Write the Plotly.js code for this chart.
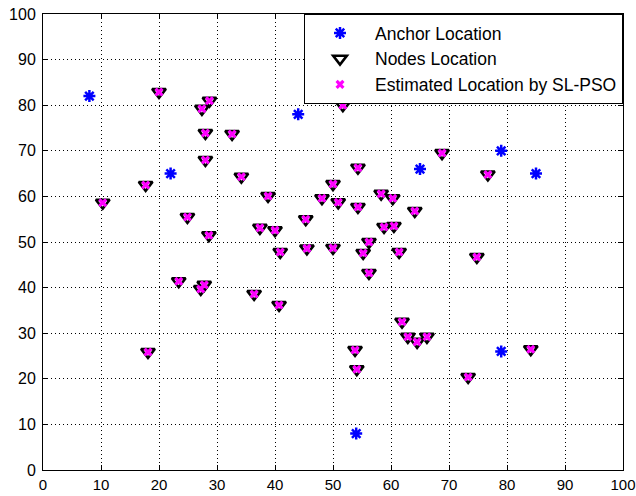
<!DOCTYPE html>
<html>
<head>
<meta charset="utf-8">
<script src="https://cdn.plot.ly/plotly-3.0.1.min.js"></script>
<style>html,body{margin:0;padding:0;background:#fff;}#chart{width:636px;height:496px;}</style>
</head>
<body>
<div id="chart"></div>
<script>
// Anchor locations (blue stars)
const anchorX = [8, 22, 44, 65, 79, 85, 79, 54];
const anchorY = [82, 65, 78, 66, 70, 65, 26, 8];

// Node locations (black down-triangles)
const nodeX = [10.3, 17.7, 20.0, 27.4, 28.7, 28.0, 32.6, 28.0, 34.2, 24.9,
               28.6, 38.8, 37.4, 40.0, 45.3, 40.9, 45.5, 23.4, 27.2, 27.8,
               36.4, 40.7, 18.1, 51.7, 68.8, 54.3, 76.7, 50.0, 48.1, 50.9,
               54.3, 58.3, 60.3, 64.1, 58.8, 60.5, 50.0, 56.2, 55.2, 61.4,
               56.2, 74.8, 61.9, 62.9, 64.5, 66.2, 53.8, 54.1, 73.3, 84.1];
const nodeY = [58.6, 62.5, 82.9, 79.2, 81.0, 73.9, 73.7, 68.0, 64.3, 55.5,
               51.5, 60.1, 53.1, 52.6, 55.0, 47.8, 48.6, 41.4, 39.7, 40.6,
               38.6, 36.2, 25.9, 80.0, 69.5, 66.3, 64.8, 62.7, 59.6, 58.7,
               57.7, 60.6, 59.6, 56.8, 53.3, 53.5, 48.7, 50.0, 47.6, 47.8,
               43.2, 46.7, 32.5, 29.2, 28.1, 29.2, 26.3, 22.1, 20.4, 26.5];

// Estimated locations by SL-PSO (magenta crosses)
const estX = [10.3, 17.7, 20.0, 27.4, 28.7, 28.0, 32.6, 28.0, 34.2, 24.9,
              28.6, 38.8, 37.4, 40.0, 45.3, 40.9, 45.5, 23.4, 27.2, 27.8,
              36.4, 40.7, 18.1, 51.7, 68.8, 54.3, 76.7, 50.0, 48.1, 50.9,
              54.3, 58.3, 60.3, 64.1, 58.8, 60.5, 50.0, 56.2, 55.2, 61.4,
              56.2, 74.8, 61.9, 62.9, 64.5, 66.2, 53.8, 54.1, 73.3, 84.1];
const estY = [58.6, 62.5, 82.9, 79.2, 81.0, 73.9, 73.7, 68.0, 64.3, 55.5,
              51.5, 60.1, 53.1, 52.6, 55.0, 47.8, 48.6, 41.4, 39.7, 40.6,
              38.6, 36.2, 25.9, 80.0, 69.5, 66.3, 64.8, 62.7, 59.6, 58.7,
              57.7, 60.6, 59.6, 56.8, 53.3, 53.5, 48.7, 50.0, 47.6, 47.8,
              43.2, 46.7, 32.5, 29.2, 28.1, 29.2, 26.3, 22.1, 20.4, 26.5];

const tickVals = [0, 10, 20, 30, 40, 50, 60, 70, 80, 90, 100];
const seriesNames = ['Anchor Location', 'Nodes Location', 'Estimated Location by SL-PSO'];

const traces = [
  {x: anchorX, y: anchorY, mode: 'markers', type: 'scatter', name: seriesNames[0],
   marker: {symbol: 'asterisk-open', size: 10, color: '#0000ff', line: {color: '#0000ff', width: 2.5}}},
  {x: nodeX, y: nodeY, mode: 'markers', type: 'scatter', name: seriesNames[1],
   marker: {symbol: 'triangle-down-open', size: 12, color: '#000000', line: {color: '#000000', width: 2.5}}},
  {x: estX, y: estY, mode: 'markers', type: 'scatter', name: seriesNames[2],
   marker: {symbol: 'x', size: 8, color: '#ff00ff', line: {width: 0}}}
];

const axisCommon = {
  range: [0, 100], tickvals: tickVals, ticktext: tickVals.map(String),
  showgrid: true, gridcolor: '#000000', gridwidth: 1, griddash: '1px,3px',
  zeroline: false, showline: true, linecolor: '#000000', linewidth: 1,
  mirror: 'ticks', ticks: 'inside', ticklen: 5, tickcolor: '#000000',
  fixedrange: true
};

const layout = {
  width: 636, height: 496,
  margin: {l: 43, r: 13, t: 14, b: 26, pad: 0},
  paper_bgcolor: '#ffffff', plot_bgcolor: '#ffffff',
  showlegend: true,
  xaxis: Object.assign({}, axisCommon, {ticklabelstandoff: 1,
    tickfont: {family: 'Liberation Sans, Arial, sans-serif', size: 15, color: '#000000'}}),
  yaxis: Object.assign({}, axisCommon, {ticklabelstandoff: 3,
    tickfont: {family: 'Liberation Sans, Arial, sans-serif', size: 16, color: '#000000'}}),
  legend: {x: 1, y: 1, xanchor: 'right', yanchor: 'top',
    bgcolor: '#ffffff', bordercolor: '#000000', borderwidth: 1,
    font: {family: 'Liberation Sans, Arial, sans-serif', size: 17.5, color: '#000000'},
    itemwidth: 60, tracegroupgap: 0}
};

Plotly.newPlot('chart', traces, layout, {displayModeBar: false, staticPlot: true});
</script>
</body>
</html>
